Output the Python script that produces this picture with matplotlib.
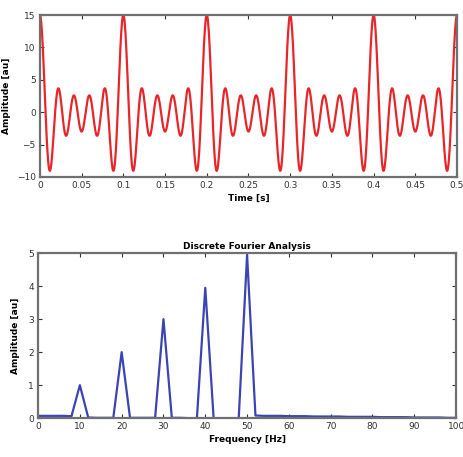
import matplotlib
matplotlib.use("Agg")
import matplotlib.pyplot as plt
import numpy as np

# signal components
comp_freqs = [10, 20, 30, 40, 50]   # Hz
comp_amps = [1, 2, 3, 4, 5]         # au

# DFT magnitude, 2 Hz bins from 0 to 100 Hz
spec_freqs = list(range(0, 101, 2))
spec_amps = [0.07, 0.07, 0.07, 0.07, 0.06, 1.0, 0.02, 0.01, 0.01, 0.01,
             2.0, 0.01, 0.01, 0.01, 0.01, 3.0, 0.01, 0.01, 0.0, 0.0,
             3.95, 0.0, 0.0, 0.0, 0.0, 4.95, 0.08, 0.07, 0.07, 0.07,
             0.06, 0.06, 0.06, 0.05, 0.05, 0.05, 0.05, 0.04, 0.04, 0.04,
             0.04, 0.03, 0.03, 0.03, 0.03, 0.02, 0.02, 0.02, 0.02, 0.01,
             0.01]

t = np.arange(0, 0.5001, 0.0005)
x = np.zeros_like(t)
for f, a in zip(comp_freqs, comp_amps):
    x += a * np.cos(2 * np.pi * f * t)

fig = plt.figure(figsize=(4.64, 4.57), dpi=100)
fs = 6.5
frame_col = '#707070'

ax1 = fig.add_axes([0.086, 0.613, 0.899, 0.354])
ax1.plot(t, x, color='#e8262a', lw=1.6)
ax1.set_xlim(0, 0.5)
ax1.set_ylim(-10, 15)
ax1.set_xticks(np.arange(0, 0.501, 0.05))
ax1.set_xticklabels(['0', '0.05', '0.1', '0.15', '0.2', '0.25', '0.3', '0.35', '0.4', '0.45', '0.5'])
ax1.set_yticks([-10, -5, 0, 5, 10, 15])
ax1.set_xlabel('Time [s]', fontsize=fs, fontweight='bold', labelpad=3)
ax1.set_ylabel('Amplitude [au]', fontsize=fs, fontweight='semibold', labelpad=4)

ax2 = fig.add_axes([0.082, 0.085, 0.901, 0.361])
ax2.plot(spec_freqs, spec_amps, color='#3b44b3', lw=1.6)
ax2.set_xlim(0, 100)
ax2.set_ylim(0, 5)
ax2.set_xticks(range(0, 101, 10))
ax2.set_yticks(range(0, 6))
ax2.set_xlabel('Frequency [Hz]', fontsize=fs, fontweight='bold', labelpad=3)
ax2.set_ylabel('Amplitude [au]', fontsize=fs, fontweight='semibold', labelpad=6)
ax2.set_title('Discrete Fourier Analysis', fontsize=fs, fontweight='bold', pad=3)

for ax in (ax1, ax2):
    ax.tick_params(direction='in', top=True, right=True, labelsize=fs,
                   length=3, width=0.8, colors='#333333', pad=3)
    for s in ax.spines.values():
        s.set_color(frame_col)
        s.set_linewidth(1.6)

fig.savefig('out.png', dpi=100)
